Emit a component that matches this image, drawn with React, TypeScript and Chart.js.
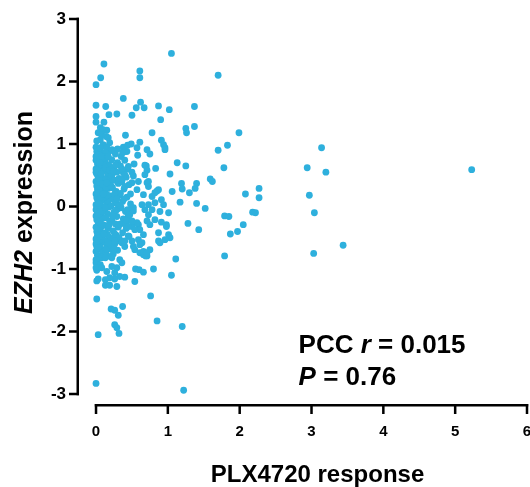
import React, { useEffect, useRef } from "react";
import { Chart, registerables } from "chart.js";

Chart.register(...registerables);

// ---- data: [PLX4720 response, EZH2 expression] ----
const denseCluster: [number, number][] = [
  [0.00,0.95],[0.01,0.88],[0.00,0.74],[0.02,0.68],[0.00,0.60],[0.01,0.52],[0.03,0.47],[0.00,0.40],[0.01,0.33],[0.02,0.27],
  [0.00,0.20],[0.01,0.14],[0.03,0.08],[0.00,0.03],[0.01,-0.03],[0.02,-0.09],[0.00,-0.15],[0.01,-0.21],[0.03,-0.26],[0.00,-0.33],
  [0.01,-0.40],[0.02,-0.46],[0.00,-0.52],[0.01,-0.64],[0.00,-0.72],[0.02,-0.78],[0.00,-0.90],[0.01,-1.02],[0.00,0.55],[0.00,-0.05],
  [0.02,0.36],[0.00,0.80],[0.02,0.12],[0.00,-0.60],
  [0.05,0.92],[0.07,0.85],[0.06,0.76],[0.09,0.70],[0.05,0.63],[0.08,0.57],[0.06,0.49],[0.10,0.44],[0.05,0.38],[0.07,0.31],
  [0.09,0.24],[0.05,0.18],[0.08,0.10],[0.06,0.04],[0.10,-0.02],[0.05,-0.07],[0.07,-0.13],[0.09,-0.19],[0.05,-0.25],[0.08,-0.31],
  [0.06,-0.37],[0.10,-0.43],[0.05,-0.50],[0.08,-0.57],[0.06,-0.66],[0.09,-0.72],[0.04,-0.80],[0.07,0.00],[0.04,0.28],[0.10,0.62],
  [0.12,0.96],[0.15,0.80],[0.13,0.72],[0.18,0.66],[0.11,0.58],[0.16,0.53],[0.14,0.45],[0.19,0.40],[0.12,0.34],[0.17,0.29],
  [0.13,0.22],[0.20,0.17],[0.11,0.11],[0.15,0.05],[0.18,-0.01],[0.12,-0.06],[0.16,-0.12],[0.14,-0.18],[0.19,-0.24],[0.11,-0.30],
  [0.17,-0.35],[0.13,-0.42],[0.18,-0.49],[0.12,-0.55],[0.15,-0.62],[0.20,-0.68],[0.14,-0.75],[0.17,0.08],[0.20,0.48],[0.12,0.15],
  [0.23,0.90],[0.27,0.84],[0.22,0.75],[0.30,0.70],[0.25,0.62],[0.29,0.55],[0.22,0.50],[0.26,0.42],[0.31,0.37],[0.23,0.30],
  [0.28,0.24],[0.32,0.18],[0.24,0.12],[0.27,0.06],[0.21,0.01],[0.30,-0.04],[0.25,-0.09],[0.29,-0.16],[0.22,-0.22],[0.27,-0.28],
  [0.31,-0.33],[0.24,-0.39],[0.28,-0.46],[0.22,-0.52],[0.26,-0.60],[0.30,-0.70],[0.24,-0.76],
  [0.35,0.80],[0.40,0.74],[0.34,0.65],[0.44,0.60],[0.38,0.54],[0.42,0.47],[0.36,0.40],[0.46,0.35],[0.39,0.28],[0.34,0.21],
  [0.43,0.15],[0.37,0.08],[0.48,0.04],[0.35,-0.02],[0.41,-0.08],[0.45,-0.15],[0.38,-0.20],[0.34,-0.28],[0.42,-0.35],[0.37,-0.42],
  [0.46,-0.48],[0.35,-0.55],[0.40,0.32],[0.50,0.55],[0.48,0.20],[0.44,-0.05],
];

const denseFill: [number, number][] = [
  [0.02,0.58],[0.04,0.45],[0.03,0.22],[0.04,-0.12],[0.03,-0.35],[0.04,-0.55],[0.02,-0.68],[0.03,0.90],[0.02,-0.85],
  [0.08,0.66],[0.09,0.36],[0.07,0.15],[0.09,-0.08],[0.07,-0.28],[0.09,-0.48],[0.08,-0.82],[0.07,0.52],[0.06,0.88],
  [0.13,0.62],[0.14,0.30],[0.16,0.18],[0.13,-0.02],[0.18,-0.30],[0.16,-0.45],[0.14,-0.68],[0.11,0.78],[0.18,0.88],[0.19,0.58],
  [0.21,0.33],[0.24,0.56],[0.26,0.20],[0.23,-0.14],[0.26,-0.44],[0.21,-0.62],[0.29,0.12],[0.32,0.45],[0.28,-0.06],[0.32,-0.50],
  [0.36,0.60],[0.39,0.12],[0.41,-0.28],[0.38,0.95],[0.33,0.02],[0.30,0.92],[0.27,0.66],[0.25,-0.68],[0.20,-0.80],[0.17,-0.58],
  [0.11,-0.44],[0.10,0.20],[0.15,0.38],[0.05,0.70],[0.04,0.05],
];

const upperEdge: [number, number][] = [
  [0.11,1.35],[0.06,1.26],[0.10,1.23],[0.15,1.22],[0.03,1.18],[0.08,1.15],[0.14,1.12],[0.06,1.07],[0.01,1.05],[0.17,1.10],
  [0.19,1.02],[0.10,0.99],[0.06,0.94],[0.15,0.94],[0.22,0.91],[0.26,0.88],[0.13,0.86],[0.03,0.83],[0.08,0.80],[0.17,0.80],
  [0.57,0.94],[0.96,0.94],[0.43,0.88],
];

const upperSpread: [number, number][] = [
  [1.05,2.45],[0.11,2.28],[0.065,2.06],[0.00,1.95],[0.61,2.17],[0.61,2.06],[1.70,2.10],[0.38,1.73],[0.62,1.67],[0.56,1.58],
  [0.67,1.58],[0.87,1.61],[1.02,1.55],[1.37,1.60],[0.00,1.62],[0.135,1.60],[0.18,1.47],[0.29,1.48],[0.50,1.46],[0.90,1.39],
  [1.25,1.25],[1.26,1.18],[1.37,1.28],[1.99,1.18],[0.78,1.18],[0.41,1.14],[0.00,1.44],[0.00,1.35],[0.91,1.06],[0.94,0.99],
  [1.83,0.98],[1.70,0.90],[0.61,1.03],[0.49,1.00],[0.44,0.98],[0.58,0.82],[0.71,0.91],[0.75,0.84],[0.40,0.88],[0.37,0.86],
  [1.13,0.70],[1.25,0.65],[1.03,0.52],[1.78,0.62],[0.70,0.65],[0.83,0.61],[0.71,0.58],[0.53,0.68],[1.59,0.44],[1.62,0.40],
  [1.19,0.37],[1.40,0.37],[1.20,0.28],[1.30,0.22],[1.38,0.29],[1.06,0.24],[2.08,0.20],[2.27,0.29],[2.27,0.14],[1.17,0.07],
  [1.40,0.05],[1.52,-0.03],[1.79,-0.15],[1.85,-0.16],[2.18,-0.09],[2.22,-0.10],
];

const farRight: [number, number][] = [
  [2.94,0.62],[3.14,0.94],[3.20,0.55],[5.23,0.59],[2.97,0.18],[3.04,-0.10],[1.28,-0.27],[1.43,-0.37],[2.05,-0.29],[1.97,-0.40],
  [1.87,-0.44],[1.79,-0.79],[3.03,-0.75],[3.44,-0.62],
];

const middleSpread: [number, number][] = [
  [0.96,0.91],[0.68,0.51],[0.52,0.49],[0.59,0.40],[0.73,0.40],[0.85,0.25],[0.91,0.11],[0.94,0.03],[1.01,-0.10],[0.89,-0.08],
  [0.78,-0.05],[0.73,-0.13],[0.82,-0.21],[0.71,-0.23],[0.75,-0.29],[0.59,-0.29],[0.61,-0.37],[0.66,-0.45],[0.59,-0.53],[0.45,-0.47],
  [0.50,-0.55],[0.40,-0.64],[0.31,-0.55],[0.57,0.27],[0.66,0.19],[0.64,0.03],[0.52,-0.02],[0.47,-0.13],[0.43,-0.23],[0.50,-0.32],
  [1.01,-0.45],[1.03,-0.50],[0.96,-0.53],[0.87,-0.42],[0.98,-0.29],[0.91,-0.25],
  [0.68,0.66],[0.45,0.64],[0.40,0.51],[0.36,0.43],[0.50,0.38],[0.71,0.38],[0.73,0.32],[0.87,0.27],[0.82,0.22],[0.78,0.16],
  [0.82,0.06],[0.73,0.03],[0.68,-0.05],[0.98,-0.32],[0.87,-0.55],[0.75,-0.69],[0.64,-0.58],[0.61,-0.74],[0.71,-0.79],[0.54,-0.69],
  [0.54,-0.37],[0.57,-0.26],[0.45,-0.32],[0.50,-0.23],[0.52,-0.07],
];

const lowerSpread: [number, number][] = [
  [1.11,-0.84],[0.80,-1.00],[1.05,-1.10],[0.76,-1.43],[0.85,-1.83],[1.20,-1.92],[1.22,-2.94],[0.00,-2.83],[0.03,-2.05],[0.01,-1.48],
  [0.37,-1.60],[0.21,-1.64],[0.26,-1.66],[0.31,-1.74],[0.26,-1.89],[0.29,-1.94],[0.32,-2.03],[0.54,-1.20],[0.55,-1.00],[0.60,-1.01],
  [0.66,-1.05],[0.66,-0.77],[0.69,-0.79],[0.89,-0.58],[0.33,-1.12],[0.40,-1.13],[0.26,-1.16],[0.19,-1.14],[0.13,-1.17],[0.13,-1.26],
  [0.19,-1.26],[0.29,-1.28],[0.01,-1.19],[0.03,-1.16],[0.00,-0.85],[0.06,-0.93],[0.00,-0.98],[0.08,-0.98],[0.13,-0.82],[0.22,-0.82],
  [0.33,-0.85],[0.36,-0.90],[0.22,-0.96],[0.29,-0.98],[0.15,-1.04],[0.26,-1.06],[0.01,-0.58],[0.03,-0.66],[0.26,-0.55],[0.36,-0.58],
  [0.40,-0.55],[0.52,-0.64],[0.61,-0.61],[0.66,-0.72],[0.71,-0.74],
];

const xTickValues = [0, 1, 2, 3, 4, 5, 6];
const yTickValues = [-3, -2, -1, 0, 1, 2, 3];
const xTitle = "PLX4720 response";
const yTitleGene = "EZH2";
const yTitleRest = " expression";
const pccLabel = "PCC ";
const rSymbol = "r";
const rValue = " = 0.015";
const pSymbol = "P";
const pValue = " = 0.76";

const FONT = "'Liberation Sans', Arial, Helvetica, sans-serif";
const POINT_COLOR = "rgb(46,176,221)";

function drawRuns(ctx: CanvasRenderingContext2D, runs: [string, string][], x: number, y: number, align: string) {
  let total = 0;
  const widths = runs.map(([t, f]) => {
    ctx.font = f;
    const w = ctx.measureText(t).width;
    total += w;
    return w;
  });
  let cx = align === "center" ? x - total / 2 : x;
  runs.forEach(([t, f], i) => {
    ctx.font = f;
    ctx.textAlign = "left";
    ctx.fillText(t, cx, y);
    cx += widths[i];
  });
}

const decorPlugin = {
  id: "decor",
  afterDraw(chart: any) {
    const { ctx, chartArea, scales } = chart;
    const xs = scales.x;
    const ys = scales.y;
    ctx.save();
    ctx.fillStyle = "#000";
    const x0 = xs.getPixelForValue(0);
    const x1 = xs.getPixelForValue(6);
    const yb = chartArea.bottom;
    ctx.fillRect(x0 - 1.25, yb, x1 - x0 + 2.5, 2.5);
    for (let i = 0; i < xTickValues.length; i++) {
      const px = xs.getPixelForValue(xTickValues[i]);
      ctx.fillRect(px - 1.25, yb, 2.5, 10);
    }
    const yTop = ys.getPixelForValue(3);
    const yBot = ys.getPixelForValue(-3);
    const xl = chartArea.left;
    ctx.fillRect(xl - 2.5, yTop - 1.25, 2.5, yBot - yTop + 2.5);
    for (let i = 0; i < yTickValues.length; i++) {
      const py = ys.getPixelForValue(yTickValues[i]);
      ctx.fillRect(xl - 10, py - 1.25, 10, 2.5);
    }
    ctx.textBaseline = "alphabetic";
    drawRuns(ctx, [[xTitle, `bold 24px ${FONT}`]], (x0 + x1) / 2 + 6, 482, "center");
    ctx.save();
    ctx.translate(32, (yTop + yBot) / 2 + 6);
    ctx.rotate(-Math.PI / 2);
    drawRuns(ctx, [[yTitleGene, `italic bold 25px ${FONT}`], [yTitleRest, `bold 25px ${FONT}`]], 0, 0, "center");
    ctx.restore();
    const ax = xs.getPixelForValue(2.82);
    const ay = ys.getPixelForValue(-2.34);
    drawRuns(ctx, [[pccLabel, `bold 26px ${FONT}`], [rSymbol, `italic bold 26px ${FONT}`], [rValue, `bold 26px ${FONT}`]], ax, ay, "left");
    drawRuns(ctx, [[pSymbol, `italic bold 26px ${FONT}`], [pValue, `bold 26px ${FONT}`]], ax, ay + 32, "left");
    ctx.restore();
  },
};

export default function App() {
  const ref = useRef<HTMLCanvasElement | null>(null);
  useEffect(() => {
    if (!ref.current) return;
    const all = [...denseCluster, ...denseFill, ...upperEdge, ...upperSpread, ...middleSpread, ...lowerSpread, ...farRight];
    const chart = new Chart(ref.current, {
      type: "scatter",
      data: {
        datasets: [
          {
            data: all.map(([x, y]) => ({ x, y })),
            backgroundColor: POINT_COLOR,
            borderWidth: 0,
            pointRadius: 3.4,
          },
        ],
      },
      options: {
        animation: false,
        responsive: false,
        devicePixelRatio: 1,
        layout: { padding: { top: 19, right: 18, left: 0, bottom: 0 } },
        plugins: { legend: { display: false }, tooltip: { enabled: false } },
        scales: {
          x: {
            type: "linear", min: -0.237, max: 6,
            afterBuildTicks: (s: any) => { s.ticks = xTickValues.map((v) => ({ value: v })); },
            afterFit: (s: any) => { s.height = 83; },
            border: { display: false },
            grid: { display: false, drawOnChartArea: false, drawTicks: true, tickLength: 10 },
            ticks: { color: "#000", font: { family: FONT, size: 15, weight: "bold" }, padding: 9, maxRotation: 0, autoSkip: false },
          },
          y: {
            type: "linear", min: -3.16, max: 3,
            afterBuildTicks: (s: any) => { s.ticks = yTickValues.map((v) => ({ value: v })); },
            afterFit: (s: any) => { s.width = 79; },
            border: { display: false },
            grid: { display: false, drawOnChartArea: false, drawTicks: true, tickLength: 10 },
            ticks: { color: "#000", font: { family: FONT, size: 17, weight: "bold" }, padding: 3, autoSkip: false },
          },
        },
      },
      plugins: [decorPlugin],
    });
    return () => chart.destroy();
  }, []);
  return (
    <div style={{ position: "absolute", left: 0, top: 0, width: 530, height: 487, overflow: "hidden" }}>
      <canvas ref={ref} width={545} height={487} style={{ display: "block", width: 545, height: 487 }} />
    </div>
  );
}
